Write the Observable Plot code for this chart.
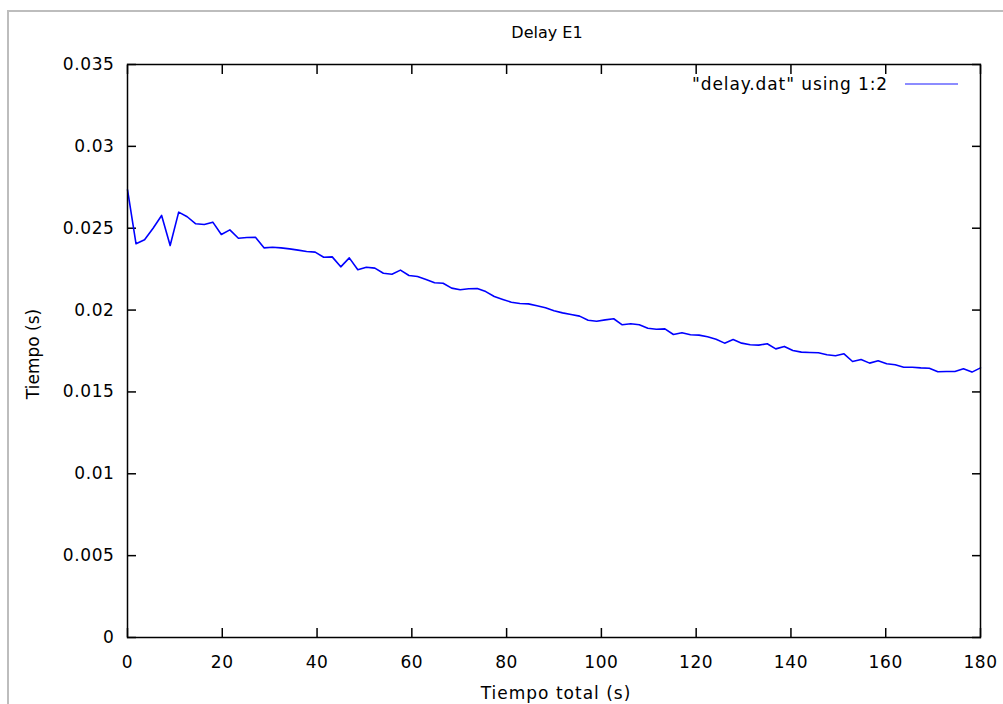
<!DOCTYPE html>
<html>
<head>
<meta charset="utf-8">
<script src="https://cdn.jsdelivr.net/npm/d3@7"></script>
<script src="https://cdn.jsdelivr.net/npm/@observablehq/plot@0.6"></script>
<style>
  html, body { margin: 0; padding: 0; background: #fff; overflow: hidden; }
  #wrap { position: relative; width: 1003px; height: 704px; font-family: "DejaVu Sans", sans-serif; color: #000; }
  #border { position: absolute; left: 7px; top: 10px; width: 1010px; height: 720px; border: 2px solid #bdbdbd; box-sizing: border-box; }
  .lbl { position: absolute; white-space: nowrap; }
  #title { left: 547px; top: 32px; transform: translate(-50%, -50%); font-size: 16px; }
  #xlabel { left: 556px; top: 693px; transform: translate(-50%, -50%); font-size: 17px; letter-spacing: 1px; }
  #ylabel { left: 33px; top: 354px; transform: translate(-50%, -50%) rotate(-90deg); font-size: 17px; }
  #legend { right: 115px; top: 84px; transform: translateY(-50%); font-size: 17px; letter-spacing: 0.9px; }
  #legline { position: absolute; left: 905px; top: 83px; width: 53px; height: 2px; background: #8c8cff; }
  svg { position: absolute; left: 0; top: 0; }
</style>
</head>
<body>
<div id="wrap">
  <div id="border"></div>
  <div id="chart"></div>
  <div class="lbl" id="title">Delay E1</div>
  <div class="lbl" id="xlabel">Tiempo total (s)</div>
  <div class="lbl" id="ylabel">Tiempo (s)</div>
  <div class="lbl" id="legend">"delay.dat" using 1:2</div>
  <div id="legline"></div>
</div>
<script>
const times = [0, 1.8, 3.6, 5.4, 7.2, 9, 10.8, 12.6, 14.4, 16.2, 18, 19.8, 21.6, 23.4, 25.2, 27, 28.8, 30.6, 32.4, 34.2,
  36, 37.8, 39.6, 41.4, 43.2, 45, 46.8, 48.6, 50.4, 52.2, 54, 55.8, 57.6, 59.4, 61.2, 63, 64.8, 66.6, 68.4, 70.2,
  72, 73.8, 75.6, 77.4, 79.2, 81, 82.8, 84.6, 86.4, 88.2, 90, 91.8, 93.6, 95.4, 97.2, 99, 100.8, 102.6, 104.4, 106.2,
  108, 109.8, 111.6, 113.4, 115.2, 117, 118.8, 120.6, 122.4, 124.2, 126, 127.8, 129.6, 131.4, 133.2, 135, 136.8, 138.6, 140.4, 142.2,
  144, 145.8, 147.6, 149.4, 151.2, 153, 154.8, 156.6, 158.4, 160.2, 162, 163.8, 165.6, 167.4, 169.2, 171, 172.8, 174.6, 176.4, 178.2, 180];
const delays = [0.02735, 0.02405, 0.02429, 0.0250, 0.02578, 0.02394, 0.02598, 0.0257, 0.02527, 0.02523, 0.02537, 0.02462, 0.02490, 0.02439, 0.02443, 0.02445, 0.02380, 0.02384, 0.02380, 0.02374,
  0.02366, 0.02358, 0.02354, 0.02323, 0.02325, 0.02264, 0.02319, 0.02246, 0.02262, 0.02256, 0.02225, 0.02219, 0.02244, 0.02211, 0.02205, 0.02187, 0.02167, 0.02164, 0.02134, 0.02124,
  0.0213, 0.02132, 0.02113, 0.02083, 0.02065, 0.02048, 0.0204, 0.02038, 0.02026, 0.02014, 0.01996, 0.01983, 0.01973, 0.01963, 0.01938, 0.01932, 0.0194, 0.01947, 0.0191, 0.01916,
  0.0191, 0.01889, 0.01883, 0.01885, 0.01851, 0.01861, 0.01849, 0.01847, 0.01837, 0.01822, 0.01798, 0.0182, 0.01798, 0.01788, 0.01786, 0.01794, 0.01763, 0.01778, 0.01753, 0.01743,
  0.01741, 0.01739, 0.01727, 0.01721, 0.01733, 0.01686, 0.01698, 0.01676, 0.0169, 0.01672, 0.01666, 0.01651, 0.01651, 0.01647, 0.01645, 0.01623, 0.01625, 0.01625, 0.01641, 0.01621, 0.01647];
const xTicks = [0, 20, 40, 60, 80, 100, 120, 140, 160, 180];
const yTicks = [0, 0.005, 0.01, 0.015, 0.02, 0.025, 0.03, 0.035];
const yTickLabels = ["0", "0.005", "0.01", "0.015", "0.02", "0.025", "0.03", "0.035"];

const data = times.map((t, i) => ({t, d: delays[i]}));

const chart = Plot.plot({
  width: 1003,
  height: 704,
  marginLeft: 127,
  marginRight: 23,
  marginTop: 64,
  marginBottom: 67,
  style: {fontFamily: "DejaVu Sans, sans-serif", fontSize: "17px", letterSpacing: "0.6px", background: "transparent", color: "#000"},
  x: {domain: [0, 180]},
  y: {domain: [0, 0.035]},
  marks: [
    Plot.axisX(xTicks, {anchor: "bottom", tickSize: -9, tickPadding: 27, label: null, tickFormat: d => String(d), strokeWidth: 1.5}),
    Plot.axisX(xTicks, {anchor: "top", tickSize: -9, label: null, tickFormat: () => "", strokeWidth: 1.5}),
    Plot.axisY(yTicks, {anchor: "left", tickSize: -9, tickPadding: 22, label: null, tickFormat: (d, i) => yTickLabels[i], strokeWidth: 1.5}),
    Plot.axisY(yTicks, {anchor: "right", tickSize: -9, label: null, tickFormat: () => "", strokeWidth: 1.5}),
    Plot.line(data, {x: "t", y: "d", stroke: "#0000ff", strokeWidth: 1.6}),
    Plot.frame({stroke: "#000", strokeWidth: 1.5})
  ]
});
document.getElementById("chart").appendChild(chart);
</script>
</body>
</html>
